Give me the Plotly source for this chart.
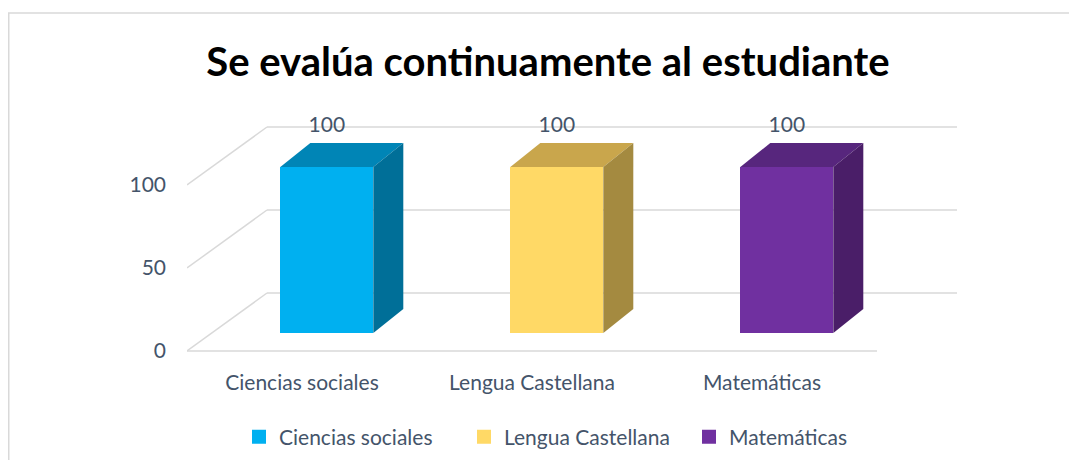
import plotly.graph_objects as go

# ---------------- data ----------------
categories = ["Ciencias sociales", "Lengua Castellana", "Matemáticas"]
values = [100, 100, 100]
y_ticks = [0, 50, 100]
title_text = "Se evalúa continuamente al estudiante"

# ---------------- style ----------------
front_colors = ["#00B0F0", "#FFD966", "#7030A0"]
top_colors = ["#0085B6", "#C9A64C", "#57267D"]
side_colors = ["#006F98", "#A48A40", "#4A1E68"]
grid_color = "#D9D9D9"
text_color = "#44546A"
FONT = "Lato"

OFF = 8                 # page body margin
W, H = 1077 - 2 * OFF, 468 - 2 * OFF
L_PX, R_PX, T_PX, B_PX = 187 - OFF, 957 - OFF, 115 - OFF, 355 - OFF
CAT_PX = 230.0          # pixels per category on the front plane
Y_PX = 1.66             # pixels per value unit
ZERO_PX = 351 - OFF     # pixel row of value 0 on the front plane

# wall depth (oblique projection) in data units
DX = 80 / CAT_PX
DY = 58 / Y_PX
F1 = 0.31               # fraction of depth where the bar front face sits
BAR_W = 93 / CAT_PX
BAR_DX = 30 / CAT_PX
BAR_DY = 24 / Y_PX
LABEL_PAD = 6 / Y_PX

x_range = [-0.5, -0.5 + (R_PX - L_PX) / CAT_PX]
y_range = [-(B_PX - ZERO_PX) / Y_PX, (ZERO_PX - T_PX) / Y_PX]
PW, PH = R_PX - L_PX, B_PX - T_PX

fig = go.Figure()

n = len(categories)
shapes = []
for v in y_ticks:
    shapes.append(dict(type="line", x0=-0.5 + DX, x1=n - 0.5 + DX, y0=v + DY, y1=v + DY,
                       line=dict(color=grid_color, width=1.5), layer="below"))
    shapes.append(dict(type="line", x0=-0.5, x1=-0.5 + DX, y0=v, y1=v + DY,
                       line=dict(color=grid_color, width=1.5), layer="below"))
shapes.append(dict(type="line", x0=-0.5, x1=n - 0.5, y0=0, y1=0,
                   line=dict(color=grid_color, width=1.5), layer="below"))

# outer chart border
shapes.append(dict(type="rect", xref="paper", yref="paper",
                   x0=(0.75 - L_PX) / PW, x1=(W + 40 - L_PX) / PW,
                   y0=-(H + 40 - B_PX) / PH, y1=1 + (T_PX - (13 - OFF)) / PH,
                   line=dict(color=grid_color, width=1.5), layer="below"))

base = F1 * DY
for i, (cat, v) in enumerate(zip(categories, values)):
    xc = i + F1 * DX
    xl, xr = xc - BAR_W / 2, xc + BAR_W / 2
    ytop = base + v
    fig.add_trace(go.Bar(x=[xc], y=[v], base=[base], width=[BAR_W], name=cat,
                         marker=dict(color=front_colors[i], line=dict(width=0)),
                         showlegend=False, hoverinfo="skip"))
    fig.add_trace(go.Scatter(
        x=[xl, xr, xr + BAR_DX, xl + BAR_DX, xl],
        y=[ytop, ytop, ytop + BAR_DY, ytop + BAR_DY, ytop],
        fill="toself", fillcolor=top_colors[i], mode="lines",
        line=dict(width=0, color=top_colors[i]), showlegend=False, hoverinfo="skip"))
    fig.add_trace(go.Scatter(
        x=[xr, xr + BAR_DX, xr + BAR_DX, xr, xr],
        y=[base, base + BAR_DY, ytop + BAR_DY, ytop, base],
        fill="toself", fillcolor=side_colors[i], mode="lines",
        line=dict(width=0, color=side_colors[i]), showlegend=False, hoverinfo="skip"))
    fig.add_trace(go.Scatter(
        x=[xc], y=[ytop + BAR_DY + LABEL_PAD], mode="text", text=[str(v)],
        textposition="top center",
        textfont=dict(family=FONT, size=21, color=text_color),
        showlegend=False, hoverinfo="skip"))

# legend entries (square swatches)
for i, cat in enumerate(categories):
    fig.add_trace(go.Scatter(x=[None], y=[None], mode="markers", name=cat,
                             marker=dict(symbol="square", size=14, color=front_colors[i]),
                             showlegend=True, hoverinfo="skip"))

fig.update_layout(
    width=W, height=H,
    margin=dict(l=L_PX, r=W - R_PX, t=T_PX, b=H - B_PX),
    paper_bgcolor="white", plot_bgcolor="rgba(0,0,0,0)",
    title=dict(text=f"<b>{title_text}</b>", x=(548 - OFF) / W, y=1 - (62 - OFF) / H,
               xanchor="center", yanchor="middle",
               font=dict(family=FONT, size=40, color="#000000")),
    xaxis=dict(range=x_range, tickmode="array", tickvals=list(range(n)),
               ticktext=categories, showgrid=False, zeroline=False, showline=False,
               ticks="", ticklabelstandoff=13, automargin=False,
               tickfont=dict(family=FONT, size=21, color=text_color), fixedrange=True),
    yaxis=dict(range=y_range, tickmode="array", tickvals=y_ticks,
               ticktext=[str(t) for t in y_ticks], showgrid=False, zeroline=False,
               showline=False, ticks="", ticklabelstandoff=20, automargin=False,
               tickfont=dict(family=FONT, size=21, color=text_color), fixedrange=True),
    legend=dict(orientation="h", xref="container", yref="container",
                x=(239 - OFF) / W, xanchor="left",
                y=1 - (437 - OFF) / H, yanchor="middle",
                font=dict(family=FONT, size=21, color=text_color),
                traceorder="normal", itemclick=False, itemdoubleclick=False,
                itemwidth=30, tracegroupgap=0, entrywidth=180, entrywidthmode="pixels"),
    shapes=shapes,
    bargap=0,
    showlegend=True,
)

fig.write_html("out.html")
